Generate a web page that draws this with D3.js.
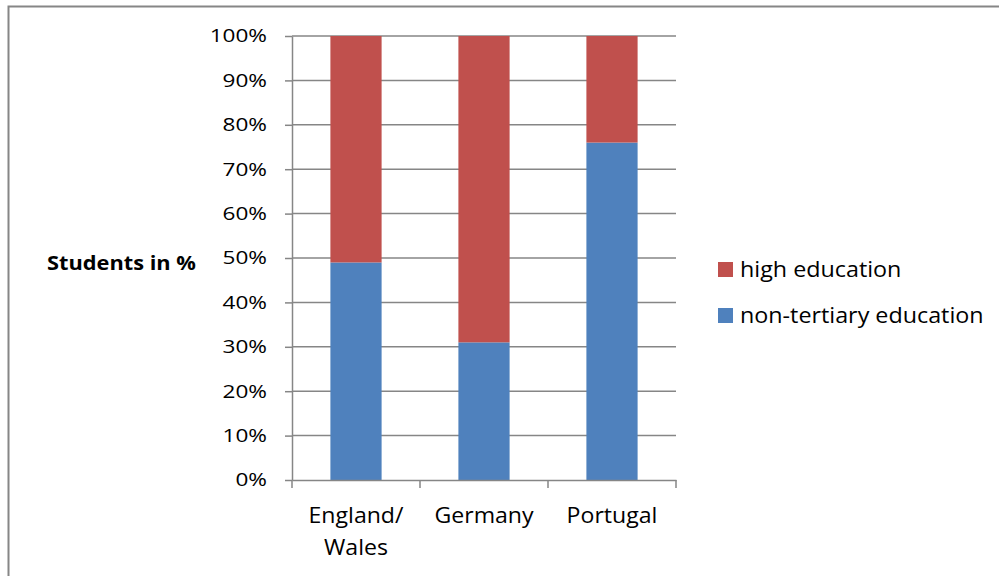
<!DOCTYPE html>
<html><head><meta charset="utf-8">
<script src="https://cdn.jsdelivr.net/npm/d3@7/dist/d3.min.js"></script>
<style>body{margin:0;background:#fff}svg{display:block}text{font-family:"Open Sans",sans-serif;fill:#000}</style>
</head><body><svg id="c" width="999" height="576"></svg>
<script>
const categories = [["England/","Wales"],["Germany"],["Portugal"]];
const nonTertiary = [49, 31, 76];
const high = [51, 69, 24];
const yTicks = [0,10,20,30,40,50,60,70,80,90,100];
const seriesNames = ["high education","non-tertiary education"];
const colors = {"high education":"#C0504D","non-tertiary education":"#4F81BD"};
const FONT = "'Open Sans',sans-serif";

const svg = d3.select("#c");
svg.append("rect").attr("x",8.5).attr("y",6.5).attr("width",1100).attr("height",700)
  .attr("fill","none").attr("stroke","#868686").attr("stroke-width",2);

const L=292, R=676, T=36, B=480;
const keys = categories.map(c=>c.join(" "));
const x = d3.scaleBand().domain(keys).range([L,R]).paddingInner(0.6).paddingOuter(0.3);
const xb = d3.scaleBand().domain(keys).range([L,R]);
const y = d3.scaleLinear().domain([0,100]).range([B,T]);

svg.append("g").selectAll("line").data(yTicks.filter(d=>d>0)).join("line")
  .attr("x1",L).attr("x2",R).attr("y1",d=>y(d)).attr("y2",d=>y(d))
  .attr("stroke","#868686").attr("stroke-width",1.5);

const rows = keys.map((k,i)=>({key:k,"non-tertiary education":nonTertiary[i],"high education":high[i]}));
const stack = d3.stack().keys(["non-tertiary education","high education"])(rows);
svg.append("g").selectAll("g").data(stack).join("g").attr("fill",d=>colors[d.key])
  .selectAll("rect").data(d=>d).join("rect")
  .attr("x",d=>x(d.data.key)).attr("width",x.bandwidth())
  .attr("y",d=>y(d[1])).attr("height",d=>y(d[0])-y(d[1]));

const ya = svg.append("g").attr("transform",`translate(${L},0)`)
  .call(d3.axisLeft(y).tickValues(yTicks).tickFormat(d=>d+"%").tickSize(7).tickSizeOuter(0));
ya.attr("font-family",FONT).attr("font-size",18.5);
ya.select(".domain").attr("stroke","#868686").attr("stroke-width",1.5);
ya.selectAll(".tick line").attr("stroke","#868686").attr("stroke-width",1.5);
ya.selectAll(".tick text").attr("x",0).attr("transform","translate(-25,0) scale(1.22,1)").attr("fill","#000");

const xa = svg.append("g").attr("transform",`translate(0,${B})`)
  .call(d3.axisBottom(xb).tickSize(0).tickFormat(""));
xa.select(".domain").attr("stroke","#868686").attr("stroke-width",1.5);
const bounds = [L].concat(keys.map(k=>xb(k)+xb.bandwidth()));
svg.append("g").selectAll("line").data(bounds).join("line")
  .attr("x1",d=>d).attr("x2",d=>d).attr("y1",B).attr("y2",B+8)
  .attr("stroke","#868686").attr("stroke-width",1.5);
const cl = svg.append("g").selectAll("text").data(categories).join("text")
  .attr("font-size",21).attr("text-anchor","middle")
  .attr("transform",(d,i)=>`translate(${xb(keys[i])+xb.bandwidth()/2},523) scale(1.1,1)`);
cl.selectAll("tspan").data(d=>d).join("tspan").attr("x",0).attr("dy",(d,i)=>i===0?0:32).text(d=>d);

svg.append("text").attr("transform","translate(47,270) scale(1.09,1)").attr("font-size",20).attr("font-weight","bold").text("Students in %");

const lg = svg.append("g").selectAll("g").data(seriesNames).join("g")
  .attr("transform",(d,i)=>`translate(718,${262+i*46})`);
lg.append("rect").attr("width",15).attr("height",15).attr("fill",d=>colors[d]);
lg.append("text").attr("transform","translate(22,15) scale(1.11,1)").attr("font-size",21).text(d=>d);
</script></body></html>
